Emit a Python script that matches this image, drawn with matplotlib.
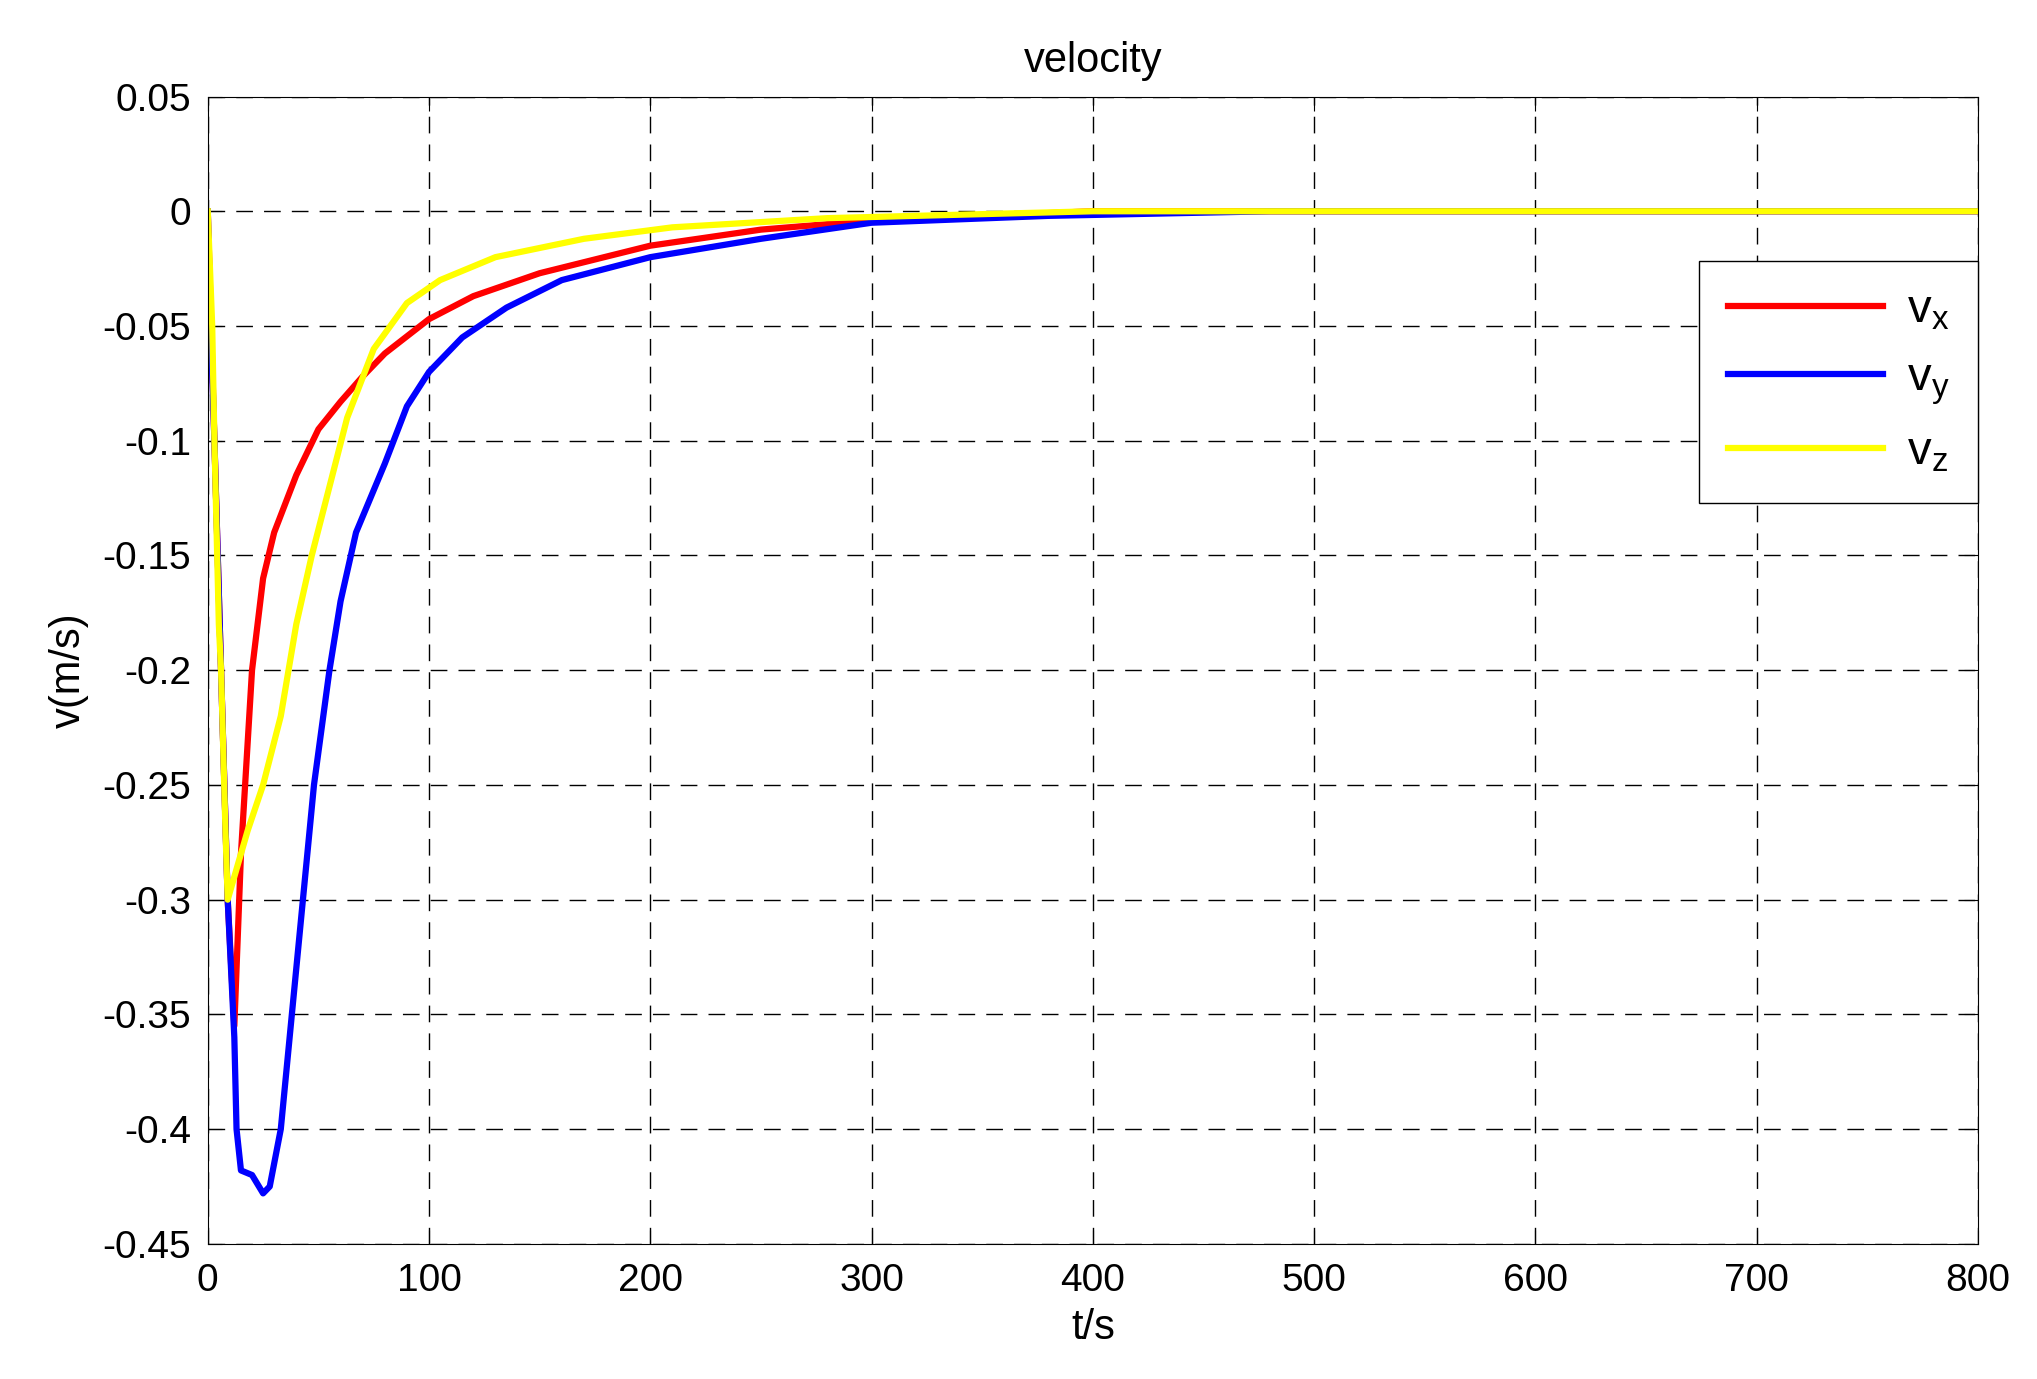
import matplotlib
matplotlib.use("Agg")
import matplotlib.pyplot as plt

plt.rcParams['font.family'] = ['Liberation Sans', 'DejaVu Sans']

t_x = [0, 3, 6, 9, 12, 15, 20, 25, 30, 40, 50, 60, 70, 80, 100, 120, 150, 200, 250, 300, 400, 800]
v_x = [0, -0.1, -0.2, -0.3, -0.355, -0.28, -0.2, -0.16, -0.14, -0.115, -0.095, -0.083, -0.072, -0.062,
       -0.047, -0.037, -0.027, -0.015, -0.008, -0.004, 0, 0]

t_y = [0, 1, 3, 6, 9, 12, 13, 15, 20, 25, 28, 33, 38, 43, 48, 55, 60, 67, 80, 90, 100, 115, 135, 160,
       200, 250, 300, 380, 480, 800]
v_y = [0, -0.04, -0.1, -0.2, -0.3, -0.36, -0.40, -0.418, -0.42, -0.428, -0.425, -0.40, -0.35, -0.3,
       -0.25, -0.2, -0.17, -0.14, -0.11, -0.085, -0.07, -0.055, -0.042, -0.03, -0.02, -0.012, -0.005,
       -0.002, 0, 0]

t_z = [0, 2, 3, 4, 5, 6, 8, 9, 12, 18, 25, 33, 40, 47, 55, 63, 75, 90, 105, 130, 170, 210, 280, 400, 800]
v_z = [0, -0.05, -0.1, -0.14, -0.18, -0.2, -0.27, -0.30, -0.29, -0.27, -0.25, -0.22, -0.18, -0.15,
       -0.12, -0.09, -0.06, -0.04, -0.03, -0.02, -0.012, -0.007, -0.003, 0, 0]

fig = plt.figure(figsize=(20.37, 13.79), dpi=100)
ax = fig.add_axes([0.102, 0.098, 0.869, 0.832])
ax.plot(t_x, v_x, color='red', lw=4.5, label='$\\mathregular{v_x}$')
ax.plot(t_y, v_y, color='blue', lw=4.5, label='$\\mathregular{v_y}$')
ax.plot(t_z, v_z, color='yellow', lw=4.5, label='$\\mathregular{v_z}$')

ax.set_xlim(0, 800)
ax.set_ylim(-0.45, 0.05)
ax.set_xticks(range(0, 801, 100))
ax.set_yticks([0.05, 0, -0.05, -0.1, -0.15, -0.2, -0.25, -0.3, -0.35, -0.4, -0.45])
ax.set_yticklabels(['0.05', '0', '-0.05', '-0.1', '-0.15', '-0.2', '-0.25', '-0.3', '-0.35', '-0.4', '-0.45'])
ax.grid(True, color='black', linestyle=(0, (12, 8)), lw=1)
ax.tick_params(labelsize=28, direction='in', length=10, top=True, right=True)
ax.tick_params(axis='x', pad=14)
ax.tick_params(axis='y', pad=12)
ax.set_xlabel('t/s', fontsize=30, labelpad=6)
ax.set_ylabel('v(m/s)', fontsize=30, labelpad=10)
ax.set_title('velocity', fontsize=30, pad=18)
leg = ax.legend(loc='upper right', bbox_to_anchor=(1.0, 0.857), borderaxespad=0, fontsize=34,
                fancybox=False, edgecolor='black', framealpha=1, handlelength=3.3,
                borderpad=0.6, labelspacing=0.5, handletextpad=0.5)
leg.get_frame().set_linewidth(1)
fig.savefig('out.png', dpi=100, facecolor='white')
